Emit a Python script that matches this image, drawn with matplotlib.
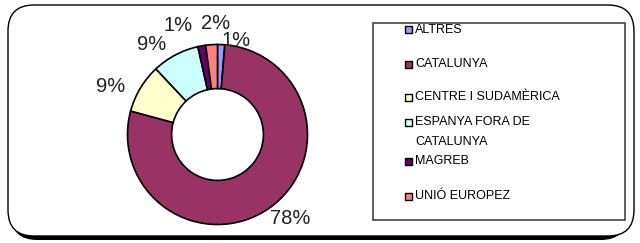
import matplotlib
matplotlib.use("Agg")
import matplotlib.pyplot as plt
from matplotlib.patches import FancyBboxPatch, Rectangle
import numpy as np

plt.rcParams['font.family'] = ['Liberation Sans', 'DejaVu Sans']

categories = ["ALTRES", "CATALUNYA", "CENTRE I SUDAMÈRICA", "ESPANYA FORA DE\nCATALUNYA", "MAGREB", "UNIÓ EUROPEZ"]
values = [1.3, 77.9, 8.8, 8.5, 1.4, 2.1]
pct_labels = ["1%", "78%", "9%", "9%", "1%", "2%"]
colors = ["#9999FF", "#993366", "#FFFFCC", "#CCFFFF", "#660066", "#FF8080"]

# label layout (radius, angle in degrees) mimicking the reference arrangement
label_layout = [(1.06, 79), (1.23, -49), (1.30, 156), (1.24, 126), (1.29, 110), (1.23, 91)]

W, H = 640, 243
fig = plt.figure(figsize=(W / 100, H / 100), dpi=100)
fig.patch.set_facecolor("white")

# background axes in pixel coordinates (y downward)
bg = fig.add_axes([0, 0, 1, 1], zorder=-5)
bg.set_xlim(0, W)
bg.set_ylim(H, 0)
bg.axis("off")

shadow = FancyBboxPatch((11, 9), 627 - 11, 240 - 9,
                        boxstyle="round,pad=0,rounding_size=26",
                        facecolor="black", edgecolor="black", linewidth=0)
bg.add_patch(shadow)
frame = FancyBboxPatch((8, 5), 634 - 8, 236 - 5,
                       boxstyle="round,pad=0,rounding_size=26",
                       facecolor="white", edgecolor="black", linewidth=1.0)
bg.add_patch(frame)

# legend box
lx0, ly0, lx1, ly1 = 373, 23, 625, 220
bg.add_patch(Rectangle((lx0, ly0), lx1 - lx0, ly1 - ly0, facecolor="white",
                       edgecolor="#444444", linewidth=1.2))
entry_y = [30, 64, 97, 122, 161, 196]
for name, col, yy in zip(categories, colors, entry_y):
    bg.add_patch(Rectangle((405, yy - 3.5), 7, 7, facecolor=col,
                           edgecolor="black", linewidth=1.0))
    if "\n" in name:
        bg.text(415, yy - 6, name, ha="left", va="top",
                fontsize=9, color="black", linespacing=1.85)
    else:
        bg.text(415, yy, name, ha="left", va="center",
                fontsize=9, color="black")

# donut
cx, cy, r = 217.5, 134.5, 90
ax = fig.add_axes([(cx - r) / W, 1 - (cy + r) / H, 2 * r / W, 2 * r / H])
wedges, _ = ax.pie(values, colors=colors, startangle=90, counterclock=False,
                   radius=1.0,
                   wedgeprops=dict(width=0.49, edgecolor="black", linewidth=1.2))
ax.set_xlim(-1, 1)
ax.set_ylim(-1, 1)
ax.set_aspect("equal")
ax.axis("off")

for lab, (rr, ang) in zip(pct_labels, label_layout):
    a = np.deg2rad(ang)
    ax.text(rr * np.cos(a), rr * np.sin(a), lab, ha="center", va="center",
            fontsize=14.5, color="#222222", clip_on=False)

fig.savefig("out.png", dpi=100)
